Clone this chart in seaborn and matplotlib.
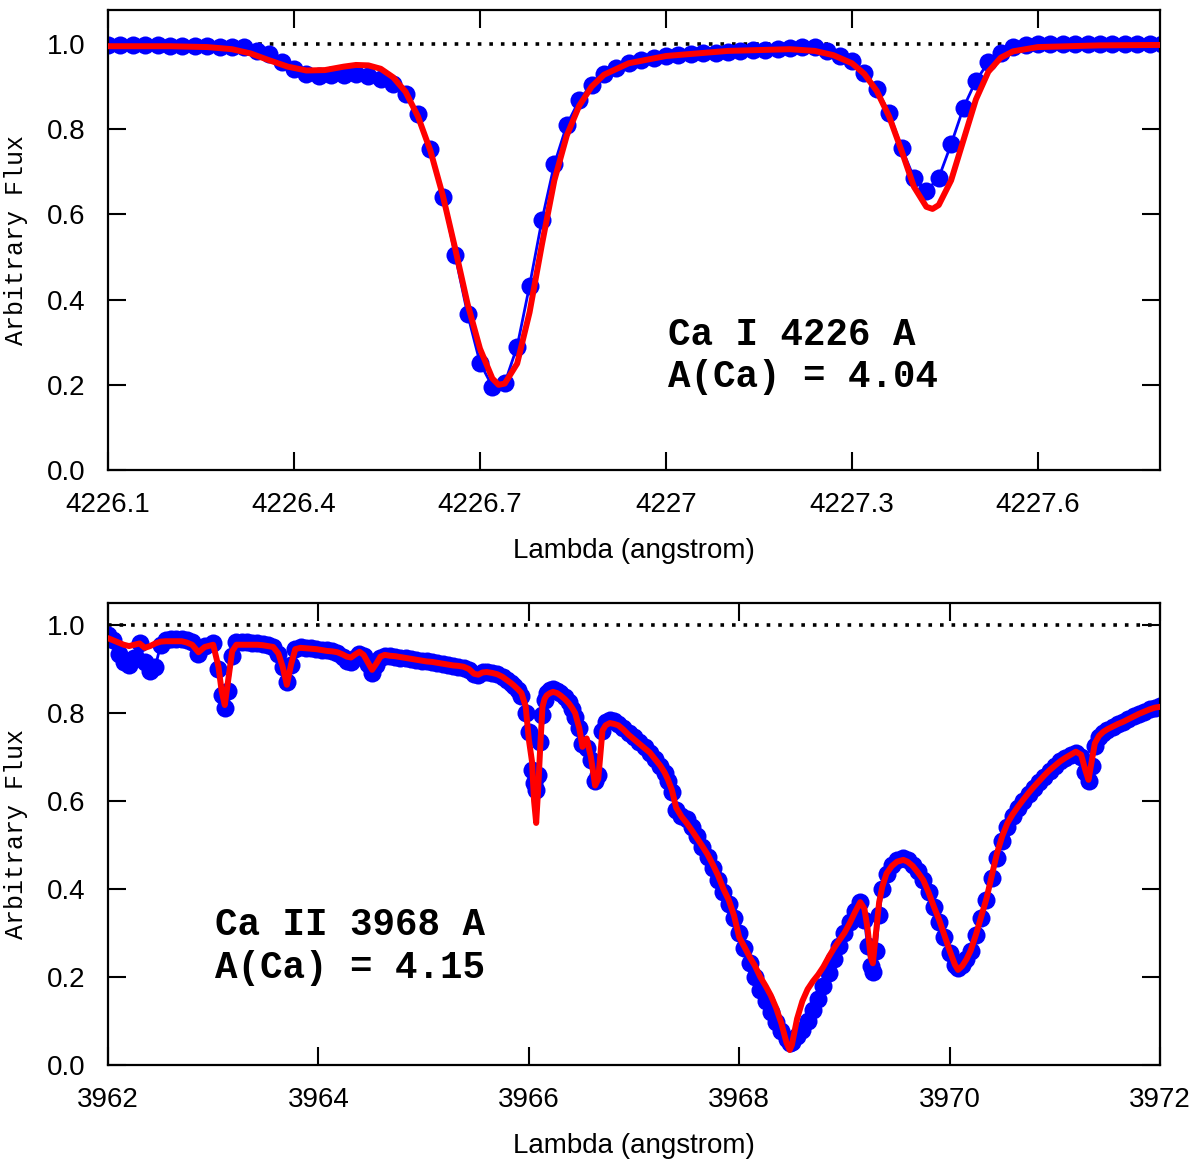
import matplotlib
matplotlib.use("Agg")
import matplotlib.pyplot as plt
import seaborn as sns

# ---- top panel: Ca I 4226 ----
top_obs_x = [4226.10, 4226.12, 4226.14, 4226.16, 4226.18, 4226.20, 4226.22, 4226.24, 4226.26, 4226.28,
             4226.30, 4226.32, 4226.34, 4226.36, 4226.38, 4226.40, 4226.42, 4226.44, 4226.46, 4226.48,
             4226.50, 4226.52, 4226.54, 4226.56, 4226.58, 4226.60, 4226.62, 4226.64, 4226.66, 4226.68,
             4226.70, 4226.72, 4226.74, 4226.76, 4226.78, 4226.80, 4226.82, 4226.84, 4226.86, 4226.88,
             4226.90, 4226.92, 4226.94, 4226.96, 4226.98, 4227.00, 4227.02, 4227.04, 4227.06, 4227.08,
             4227.10, 4227.12, 4227.14, 4227.16, 4227.18, 4227.20, 4227.22, 4227.24, 4227.26, 4227.28,
             4227.30, 4227.32, 4227.34, 4227.36, 4227.38, 4227.40, 4227.42, 4227.44, 4227.46, 4227.48,
             4227.50, 4227.52, 4227.54, 4227.56, 4227.58, 4227.60, 4227.62, 4227.64, 4227.66, 4227.68,
             4227.70, 4227.72, 4227.74, 4227.76, 4227.78, 4227.80]
top_obs_y = [0.998, 0.997, 0.997, 0.997, 0.997, 0.996, 0.996, 0.995, 0.995, 0.994,
             0.993, 0.992, 0.984, 0.976, 0.957, 0.941, 0.929, 0.925, 0.927, 0.927,
             0.929, 0.925, 0.918, 0.906, 0.882, 0.835, 0.753, 0.642, 0.504, 0.366,
             0.252, 0.196, 0.204, 0.290, 0.433, 0.587, 0.718, 0.810, 0.868, 0.905,
             0.930, 0.945, 0.955, 0.962, 0.967, 0.971, 0.974, 0.976, 0.978, 0.980,
             0.981, 0.983, 0.985, 0.986, 0.988, 0.990, 0.992, 0.992, 0.984, 0.973,
             0.961, 0.933, 0.894, 0.839, 0.757, 0.686, 0.655, 0.686, 0.765, 0.851,
             0.914, 0.957, 0.980, 0.992, 0.998, 1.000, 1.000, 1.000, 1.000, 1.000,
             1.000, 1.000, 1.000, 1.000, 1.000, 1.000]

top_fit_x = [4226.10, 4226.20, 4226.26, 4226.30, 4226.33, 4226.36, 4226.39, 4226.42, 4226.45, 4226.48,
             4226.50, 4226.52, 4226.54, 4226.56, 4226.58, 4226.60, 4226.62, 4226.64, 4226.66, 4226.68,
             4226.70, 4226.72, 4226.73, 4226.74, 4226.76, 4226.78, 4226.80, 4226.82, 4226.84, 4226.86,
             4226.88, 4226.90, 4226.94, 4227.00, 4227.10, 4227.20, 4227.24, 4227.27, 4227.30, 4227.32,
             4227.34, 4227.36, 4227.38, 4227.40, 4227.42, 4227.43, 4227.44, 4227.46, 4227.48, 4227.50,
             4227.52, 4227.54, 4227.56, 4227.60, 4227.70, 4227.80]
top_fit_y = [0.995, 0.995, 0.993, 0.988, 0.978, 0.962, 0.947, 0.938, 0.939, 0.947,
             0.951, 0.950, 0.942, 0.922, 0.888, 0.830, 0.750, 0.645, 0.520, 0.390,
             0.285, 0.215, 0.200, 0.203, 0.250, 0.370, 0.530, 0.680, 0.785, 0.855,
             0.900, 0.928, 0.955, 0.972, 0.984, 0.988, 0.984, 0.974, 0.955, 0.930,
             0.890, 0.830, 0.750, 0.665, 0.618, 0.613, 0.622, 0.680, 0.775, 0.870,
             0.935, 0.968, 0.983, 0.993, 0.997, 0.998]

top_ticks = [4226.1, 4226.4, 4226.7, 4227.0, 4227.3, 4227.6]
top_ticklabels = ["4226.1", "4226.4", "4226.7", "4227", "4227.3", "4227.6"]
top_label = ["Ca I 4226 A", "A(Ca) = 4.04"]

# ---- bottom panel: Ca II 3968 ----
bot_x = [3962.00, 3962.05, 3962.10, 3962.15, 3962.20, 3962.25, 3962.30, 3962.35, 3962.40, 3962.45,
         3962.50, 3962.55, 3962.60, 3962.65, 3962.70, 3962.75, 3962.80, 3962.86, 3962.92, 3963.00,
         3963.05, 3963.08, 3963.11, 3963.14, 3963.18, 3963.22, 3963.27, 3963.32, 3963.37, 3963.42,
         3963.47, 3963.52, 3963.57, 3963.62, 3963.66, 3963.70, 3963.74, 3963.78, 3963.83, 3963.88,
         3963.93, 3963.98, 3964.03, 3964.08, 3964.13, 3964.18, 3964.23, 3964.27, 3964.31, 3964.35,
         3964.39, 3964.43, 3964.47, 3964.51, 3964.55, 3964.59, 3964.63, 3964.68, 3964.73, 3964.78,
         3964.83, 3964.88, 3964.93, 3964.98, 3965.03, 3965.08, 3965.13, 3965.18, 3965.23, 3965.28,
         3965.33, 3965.38, 3965.43, 3965.48, 3965.52, 3965.56, 3965.60, 3965.65, 3965.70, 3965.75,
         3965.79, 3965.83, 3965.86, 3965.90, 3965.93, 3965.97, 3966.00, 3966.03, 3966.05, 3966.07,
         3966.09, 3966.11, 3966.13, 3966.15, 3966.17, 3966.20, 3966.23, 3966.27, 3966.30, 3966.34,
         3966.38, 3966.41, 3966.44, 3966.48, 3966.51, 3966.55, 3966.59, 3966.63, 3966.66, 3966.70,
         3966.73, 3966.77, 3966.81, 3966.85, 3966.90, 3966.95, 3967.00, 3967.05, 3967.10, 3967.15,
         3967.20, 3967.25, 3967.29, 3967.32, 3967.36, 3967.40, 3967.45, 3967.50, 3967.55, 3967.60,
         3967.65, 3967.70, 3967.75, 3967.80, 3967.85, 3967.90, 3967.95, 3968.00, 3968.05, 3968.10,
         3968.15, 3968.20, 3968.25, 3968.30, 3968.35, 3968.40, 3968.45, 3968.48, 3968.50, 3968.55,
         3968.60, 3968.65, 3968.70, 3968.75, 3968.80, 3968.85, 3968.90, 3968.95, 3969.00, 3969.05,
         3969.10, 3969.15, 3969.19, 3969.22, 3969.25, 3969.27, 3969.30, 3969.33, 3969.36, 3969.40,
         3969.45, 3969.50, 3969.56, 3969.60, 3969.65, 3969.70, 3969.75, 3969.80, 3969.85, 3969.90,
         3969.95, 3970.00, 3970.05, 3970.08, 3970.12, 3970.16, 3970.20, 3970.25, 3970.30, 3970.35,
         3970.40, 3970.45, 3970.50, 3970.55, 3970.60, 3970.65, 3970.70, 3970.75, 3970.80, 3970.85,
         3970.90, 3970.95, 3971.00, 3971.05, 3971.10, 3971.15, 3971.20, 3971.25, 3971.29, 3971.32,
         3971.35, 3971.38, 3971.42, 3971.46, 3971.50, 3971.55, 3971.60, 3971.65, 3971.70, 3971.75,
         3971.80, 3971.85, 3971.90, 3971.95, 3972.00]
bot_obs_y = [0.977, 0.965, 0.935, 0.915, 0.910, 0.925, 0.960, 0.915, 0.895, 0.905,
             0.955, 0.965, 0.968, 0.968, 0.968, 0.966, 0.962, 0.935, 0.952, 0.960,
             0.900, 0.840, 0.811, 0.850, 0.930, 0.962, 0.962, 0.962, 0.960, 0.958,
             0.956, 0.954, 0.950, 0.935, 0.905, 0.870, 0.910, 0.945, 0.950, 0.948,
             0.947, 0.946, 0.944, 0.942, 0.940, 0.936, 0.928, 0.918, 0.915, 0.925,
             0.935, 0.930, 0.912, 0.890, 0.908, 0.925, 0.930, 0.929, 0.928, 0.926,
             0.924, 0.922, 0.920, 0.918, 0.917, 0.915, 0.913, 0.911, 0.909, 0.907,
             0.905, 0.903, 0.898, 0.888, 0.886, 0.892, 0.893, 0.891, 0.888, 0.882,
             0.875, 0.868, 0.862, 0.852, 0.838, 0.800, 0.757, 0.670, 0.640, 0.625,
             0.660, 0.735, 0.795, 0.830, 0.845, 0.852, 0.855, 0.850, 0.845, 0.836,
             0.825, 0.808, 0.790, 0.765, 0.730, 0.720, 0.693, 0.645, 0.660, 0.760,
             0.780, 0.785, 0.782, 0.775, 0.765, 0.755, 0.745, 0.735, 0.723, 0.710,
             0.696, 0.680, 0.664, 0.645, 0.620, 0.580, 0.565, 0.560, 0.540, 0.520,
             0.495, 0.472, 0.447, 0.420, 0.392, 0.365, 0.333, 0.300, 0.265, 0.232,
             0.200, 0.170, 0.145, 0.120, 0.098, 0.078, 0.058, 0.050, 0.052, 0.065,
             0.080, 0.100, 0.125, 0.150, 0.180, 0.210, 0.240, 0.270, 0.300, 0.325,
             0.350, 0.370, 0.330, 0.270, 0.225, 0.212, 0.260, 0.340, 0.400, 0.435,
             0.455, 0.465, 0.470, 0.465, 0.455, 0.440, 0.420, 0.392, 0.360, 0.325,
             0.290, 0.255, 0.228, 0.220, 0.228, 0.240, 0.260, 0.295, 0.335, 0.375,
             0.425, 0.470, 0.510, 0.540, 0.565, 0.585, 0.600, 0.615, 0.630, 0.643,
             0.655, 0.668, 0.680, 0.690, 0.698, 0.705, 0.710, 0.700, 0.665, 0.645,
             0.680, 0.725, 0.745, 0.755, 0.762, 0.768, 0.774, 0.780, 0.786, 0.792,
             0.798, 0.803, 0.808, 0.812, 0.815]
bot_fit_y = [0.970, 0.965, 0.960, 0.955, 0.952, 0.955, 0.958, 0.948, 0.952, 0.958,
             0.962, 0.963, 0.963, 0.963, 0.963, 0.960, 0.955, 0.938, 0.950, 0.955,
             0.905, 0.850, 0.818, 0.870, 0.940, 0.955, 0.955, 0.955, 0.955, 0.955,
             0.954, 0.952, 0.950, 0.935, 0.905, 0.864, 0.910, 0.945, 0.948, 0.947,
             0.946, 0.945, 0.943, 0.941, 0.940, 0.938, 0.933, 0.928, 0.926, 0.933,
             0.939, 0.932, 0.915, 0.898, 0.912, 0.928, 0.932, 0.930, 0.929, 0.927,
             0.925, 0.923, 0.921, 0.919, 0.917, 0.916, 0.914, 0.912, 0.910, 0.908,
             0.907, 0.905, 0.900, 0.889, 0.887, 0.892, 0.893, 0.891, 0.888, 0.882,
             0.875, 0.868, 0.862, 0.853, 0.845, 0.815, 0.740, 0.690, 0.600, 0.550,
             0.632, 0.730, 0.814, 0.832, 0.840, 0.845, 0.848, 0.845, 0.840, 0.832,
             0.822, 0.812, 0.800, 0.765, 0.723, 0.742, 0.700, 0.635, 0.650, 0.760,
             0.772, 0.777, 0.775, 0.772, 0.762, 0.750, 0.740, 0.730, 0.720, 0.710,
             0.695, 0.680, 0.665, 0.650, 0.625, 0.585, 0.565, 0.550, 0.533, 0.515,
             0.497, 0.478, 0.455, 0.430, 0.400, 0.375, 0.340, 0.290, 0.268, 0.245,
             0.225, 0.200, 0.180, 0.158, 0.130, 0.095, 0.050, 0.034, 0.045, 0.105,
             0.145, 0.172, 0.190, 0.205, 0.223, 0.245, 0.265, 0.283, 0.300, 0.322,
             0.347, 0.370, 0.355, 0.310, 0.245, 0.231, 0.300, 0.370, 0.405, 0.435,
             0.452, 0.462, 0.466, 0.462, 0.452, 0.437, 0.420, 0.392, 0.360, 0.330,
             0.295, 0.260, 0.228, 0.216, 0.225, 0.240, 0.260, 0.296, 0.337, 0.378,
             0.430, 0.481, 0.520, 0.550, 0.570, 0.587, 0.603, 0.618, 0.632, 0.645,
             0.658, 0.670, 0.680, 0.690, 0.698, 0.705, 0.712, 0.705, 0.670, 0.648,
             0.690, 0.731, 0.748, 0.757, 0.763, 0.769, 0.775, 0.780, 0.786, 0.792,
             0.798, 0.803, 0.808, 0.812, 0.814]

bot_ticks = [3962, 3964, 3966, 3968, 3970, 3972]
bot_ticklabels = ["3962", "3964", "3966", "3968", "3970", "3972"]
bot_label = ["Ca II 3968 A", "A(Ca) = 4.15"]

y_ticks = [0.0, 0.2, 0.4, 0.6, 0.8, 1.0]

sns.set_style("ticks")
plt.rcParams["font.family"] = ["Liberation Sans", "DejaVu Sans"]
plt.rcParams["text.color"] = "black"
plt.rcParams["axes.labelcolor"] = "black"
plt.rcParams["xtick.color"] = "black"
plt.rcParams["ytick.color"] = "black"

fig = plt.figure(figsize=(12, 11.64), dpi=100)
ax1 = fig.add_axes([0.09, 0.5962, 0.8767, 0.3952])
ax2 = fig.add_axes([0.09, 0.0851, 0.8767, 0.3969])


def draw_panel(ax, ox, oy, fx, fy, xlim, ylim, ticks, ticklabels, label, tx, ty):
    ax.axhline(1.0, color="black", lw=2.6, ls=(0, (1.0, 2.2)), zorder=1)
    sns.lineplot(x=ox, y=oy, ax=ax, color="blue", lw=2, marker="o", markersize=13,
                 markeredgecolor="blue", markeredgewidth=0, estimator=None, sort=False, zorder=2)
    sns.lineplot(x=fx, y=fy, ax=ax, color="red", lw=4.3, estimator=None, sort=False, zorder=3)
    ax.set_xlim(*xlim)
    ax.set_ylim(*ylim)
    ax.set_xticks(ticks)
    ax.set_xticklabels(ticklabels)
    ax.set_yticks(y_ticks)
    ax.set_yticklabels([f"{v:.1f}" for v in y_ticks])
    ax.tick_params(direction="in", length=13, width=1.5, labelsize=20, pad=16,
                   top=True, right=True, colors="black")
    for s in ax.spines.values():
        s.set_linewidth(1.6)
        s.set_color("black")
    ax.set_xlabel("Lambda (angstrom)", fontsize=20, labelpad=14, color="black")
    ax.set_ylabel("Arbitrary Flux", fontsize=18, family="Liberation Mono", labelpad=14, color="black")
    for i, line in enumerate(label):
        ax.text(tx, ty[i], line, transform=ax.transAxes, fontsize=27, color="black",
                family="Liberation Mono", fontweight="bold", va="baseline", ha="left")


draw_panel(ax1, top_obs_x, top_obs_y, top_fit_x, top_fit_y, (4226.1, 4227.797), (0, 1.08),
           top_ticks, top_ticklabels, top_label, 0.532, [0.272, 0.180])
draw_panel(ax2, bot_x, bot_obs_y, bot_x, bot_fit_y, (3962, 3972), (0, 1.05),
           bot_ticks, bot_ticklabels, bot_label, 0.102, [0.281, 0.188])

fig.savefig("out.png", dpi=100)
